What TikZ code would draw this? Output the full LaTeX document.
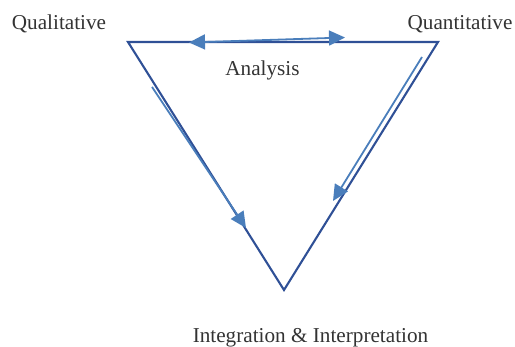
\documentclass[tikz,border=0pt]{standalone}
\usepackage{fontspec}
\setmainfont{Liberation Serif}
\usetikzlibrary{arrows.meta}
\definecolor{edgeblue}{HTML}{2F5096}
\definecolor{flowblue}{HTML}{4A7EBB}
\tikzset{
	lbl/.style={anchor=base, inner sep=0pt, text=black!80, font=\fontsize{21.2}{25}\selectfont},
	flow/.style={flowblue, line width=1.8pt, -{Triangle[length=16pt,width=15pt]}},
}
\begin{document}
\begin{tikzpicture}[x=1pt,y=-1pt]
		\useasboundingbox (0,0) rectangle (515,347);
		\coordinate (ql) at (128,42);
		\coordinate (qn) at (438,42);
		\coordinate (ii) at (284,290);
		\draw[edgeblue, line width=2.1pt, line join=miter] (ql) -- (qn) -- (ii) -- cycle;
		\node[lbl] at (59,30) (qual) {Qualitative};
		\node[lbl] at (460,30) (quan) {Quantitative};
		\node[lbl] at (262.5,76) (ana) {Analysis};
		\node[lbl] at (310.5,343) (int) {Integration \& Interpretation};
		% arrows along the sides
		\coordinate (a1) at (189,42.5);
		\coordinate (a2) at (345,37.5);
		\draw[flow, {Triangle[length=16pt,width=15pt]}-{Triangle[length=16pt,width=15pt]}] (a1) -- (a2);
		\coordinate (r1) at (422,57);
		\coordinate (r2) at (333,201);
		\draw[flow] (r1) -- (r2);
		\coordinate (l1) at (152,87);
		\coordinate (l2) at (246,228);
		\draw[flow] (l1) -- (l2);
\end{tikzpicture}
\end{document}
